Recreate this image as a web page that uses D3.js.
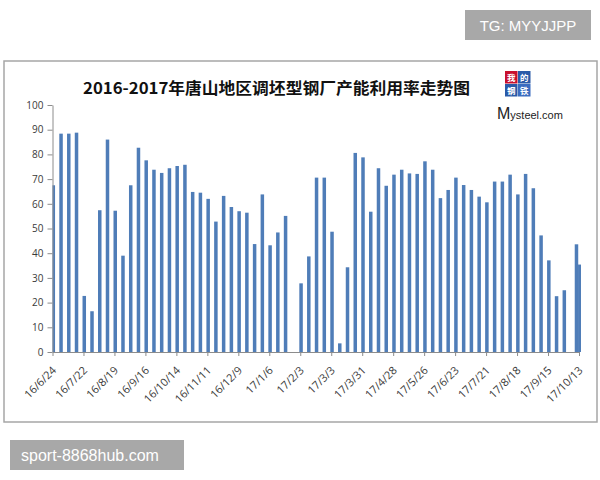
<!DOCTYPE html>
<html><head><meta charset="utf-8">
<script src="https://cdn.jsdelivr.net/npm/d3@7"></script>
<style>
body{margin:0;background:#fff;}
svg{display:block;}
</style></head>
<body>
<svg id="chart" width="600" height="480"></svg>
<script>
const title = "2016-2017年唐山地区调坯型钢厂产能利用率走势图";
const dates = [
"2016-06-24","2016-07-01","2016-07-08","2016-07-15","2016-07-22","2016-07-29","2016-08-05","2016-08-12",
"2016-08-19","2016-08-26","2016-09-02","2016-09-09","2016-09-16","2016-09-23","2016-09-30","2016-10-07",
"2016-10-14","2016-10-21","2016-10-28","2016-11-04","2016-11-11","2016-11-18","2016-11-25","2016-12-02",
"2016-12-09","2016-12-16","2016-12-23","2016-12-30","2017-01-06","2017-01-13","2017-01-20",
"2017-02-03","2017-02-10","2017-02-17","2017-02-24","2017-03-03","2017-03-10","2017-03-17","2017-03-24",
"2017-03-31","2017-04-07","2017-04-14","2017-04-21","2017-04-28","2017-05-05","2017-05-12","2017-05-19",
"2017-05-26","2017-06-02","2017-06-09","2017-06-16","2017-06-23","2017-06-30","2017-07-07","2017-07-14",
"2017-07-21","2017-07-28","2017-08-04","2017-08-11","2017-08-18","2017-08-25","2017-09-01","2017-09-08",
"2017-09-15","2017-09-22","2017-09-29","2017-10-10","2017-10-13"];
const values = [
67.5,88.4,88.4,88.8,22.7,16.5,57.4,86.0,
57.2,39.0,67.5,82.7,77.6,73.8,72.5,74.4,
75.3,75.8,64.8,64.5,62.0,52.8,63.2,58.7,
57.0,56.4,43.7,63.8,43.2,48.4,55.1,
27.8,38.7,70.6,70.6,48.7,3.5,34.3,80.6,
78.8,56.8,74.4,67.3,71.8,73.8,72.3,72.1,
77.2,73.8,62.3,65.6,70.6,67.6,65.6,62.9,
60.6,69.0,69.0,71.8,63.8,72.1,66.3,47.2,
37.1,22.6,25.0,43.6,35.4];
const tickDates = ["2016-06-24","2016-07-22","2016-08-19","2016-09-16","2016-10-14","2016-11-11","2016-12-09",
"2017-01-06","2017-02-03","2017-03-03","2017-03-31","2017-04-28","2017-05-26","2017-06-23","2017-07-21",
"2017-08-18","2017-09-15","2017-10-13"];
const tickLabels = ["16/6/24","16/7/22","16/8/19","16/9/16","16/10/14","16/11/11","16/12/9","17/1/6","17/2/3",
"17/3/3","17/3/31","17/4/28","17/5/26","17/6/23","17/7/21","17/8/18","17/9/15","17/10/13"];
const yTicks = [0,10,20,30,40,50,60,70,80,90,100];

(function(){
const parse = d3.timeParse("%Y-%m-%d");
const data = dates.map((d,i)=>({date:parse(d), value:values[i]}));
const svg = d3.select("#chart");

// frame
svg.append("rect").attr("x",4).attr("y",61).attr("width",593).attr("height",361)
  .attr("fill","#fff").attr("stroke","#a6a6a6").attr("stroke-width",1.5);

const pL=52.5, pR=579, pT=105, pB=352;
const x = d3.scaleTime().domain([parse("2016-06-24"), parse("2017-10-13")]).range([pL,pR]);
const y = d3.scaleLinear().domain([0,100]).range([pB,pT]);

svg.append("defs").append("clipPath").attr("id","clip")
  .append("rect").attr("x",pL).attr("y",pT-5).attr("width",pR-pL+2).attr("height",pB-pT+5);

const bw = 3.5;
svg.append("g").attr("clip-path","url(#clip)").selectAll("rect").data(data).enter().append("rect")
  .attr("x",d=>x(d.date)+0.8-bw/2).attr("width",bw)
  .attr("y",d=>y(d.value)).attr("height",d=>pB-y(d.value))
  .attr("fill","#4f7db8");

// y axis
const ya = svg.append("g").attr("transform",`translate(${pL},0)`)
  .call(d3.axisLeft(y).tickValues(yTicks).tickSize(5).tickPadding(4).tickSizeOuter(0));
ya.selectAll("text").attr("font-family","Open Sans, Liberation Sans, Arial").attr("font-size","10px").attr("fill","#3a3a3a");
ya.selectAll("line,path").attr("stroke","#8c8c8c");

// x axis
const tks = tickDates.map(parse);
const xa = svg.append("g").attr("transform",`translate(0,${pB})`)
  .call(d3.axisBottom(x).tickValues(tks).tickSize(4).tickSizeOuter(0).tickFormat((d,i)=>tickLabels[i]));
xa.select("path").attr("stroke","#8c8c8c");
xa.selectAll("line").attr("stroke","#8c8c8c");
xa.selectAll("text").attr("font-family","Open Sans, Liberation Sans, Arial").attr("font-size","11px").attr("fill","#3a3a3a")
  .attr("text-anchor","end").attr("dy",0).attr("y",0)
  .attr("transform","translate(4,19) rotate(-45)");

// title
svg.append("text").attr("x",83).attr("y",94).text(title)
  .attr("font-family","Noto Sans CJK SC, sans-serif").attr("font-weight","bold").attr("font-size","16px").attr("fill","#111")
  .attr("textLength",387).attr("lengthAdjust","spacingAndGlyphs");

// logo
const logo = svg.append("g");
const cs = 13;
const cells = [{c:"我",col:0,row:0,f:"#c8102e"},{c:"的",col:1,row:0,f:"#2a5aa8"},{c:"钢",col:0,row:1,f:"#2a5aa8"},{c:"铁",col:1,row:1,f:"#3a6cc0"}];
cells.forEach(o=>{
  const cx = 505 + o.col*cs, cy = 71 + o.row*cs;
  logo.append("rect").attr("x",cx).attr("y",cy).attr("width",cs-0.5).attr("height",cs-0.5).attr("fill",o.f);
  logo.append("text").attr("x",cx+cs/2-0.25).attr("y",cy+cs-3).attr("text-anchor","middle").text(o.c)
    .attr("font-family","Noto Sans CJK SC").attr("font-weight","bold").attr("font-size","8.5px").attr("fill","#fff");
});
const mt = logo.append("text").attr("x",497).attr("y",119).attr("font-family","Liberation Sans, Arial").attr("fill","#222");
mt.append("tspan").attr("font-size","16px").text("M");
mt.append("tspan").attr("font-size","11px").text("ysteel.com");

// watermarks
svg.append("rect").attr("x",465).attr("y",10).attr("width",126).attr("height",30).attr("fill","#a8a8a8");
svg.append("text").attr("x",528).attr("y",31).attr("text-anchor","middle").text("TG: MYYJJPP")
  .attr("font-family","Liberation Sans, Arial").attr("font-size","15px").attr("fill","#fff");
svg.append("rect").attr("x",10).attr("y",440).attr("width",174).attr("height",30).attr("fill","#a8a8a8");
svg.append("text").attr("x",21).attr("y",461).text("sport-8868hub.com")
  .attr("font-family","Liberation Sans, Arial").attr("font-size","16px").attr("fill","#fff");
})();
</script>
</body></html>
